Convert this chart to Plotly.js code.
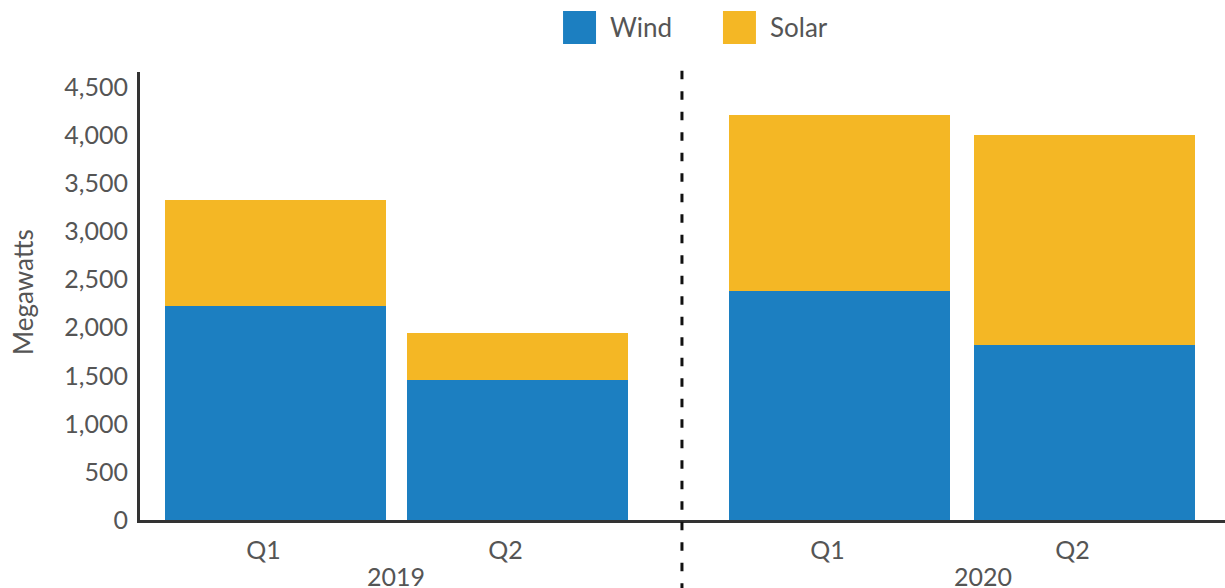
<!DOCTYPE html>
<html>
<head>
<meta charset="utf-8">
<script src="https://cdn.plot.ly/plotly-3.0.1.min.js"></script>
<style>html,body{margin:0;padding:0;background:#fff;}#chart{width:1225px;height:588px;}</style>
</head>
<body>
<div id="chart"></div>
<script>
// ---- data ----
const quarters = ['Q1', 'Q2'];
const years = ['2019', '2020'];
const wind2019 = [2230, 1460];
const solar2019 = [1100, 480];
const wind2020 = [2380, 1820];
const solar2020 = [1830, 2180];
const seriesNames = ['Wind', 'Solar'];
const yTicks = [0, 500, 1000, 1500, 2000, 2500, 3000, 3500, 4000, 4500];

// ---- style ----
const WIND = '#1c7fc1';
const SOLAR = '#f4b725';
const TXT = '#555555';
const FONT = 'Lato, "Open Sans", sans-serif';

function bar(x, y, name, color, xa, w) {
  return {type: 'bar', x: x, y: y, name: name, xaxis: xa, yaxis: 'y',
    marker: {color: color, line: {width: 0}}, width: w, showlegend: false, hoverinfo: 'skip'};
}

const traces = [
  bar(quarters, wind2019, seriesNames[0], WIND, 'x', 0.913),
  bar(quarters, solar2019, seriesNames[1], SOLAR, 'x', 0.913),
  bar(quarters, wind2020, seriesNames[0], WIND, 'x2', 0.902),
  bar(quarters, solar2020, seriesNames[1], SOLAR, 'x2', 0.902)
];

const xCommon = {
  type: 'category', categoryorder: 'array', categoryarray: quarters,
  showline: true, linecolor: '#333333', linewidth: 3, ticks: '',
  showgrid: false, zeroline: false, fixedrange: true,
  tickfont: {family: FONT, size: 25, color: TXT}, ticklabelshift: -12, ticklabelstandoff: 6
};

const layout = {
  width: 1225, height: 588,
  margin: {l: 140, r: 0, t: 72, b: 68, pad: 0},
  paper_bgcolor: '#ffffff', plot_bgcolor: '#ffffff',
  barmode: 'stack',
  showlegend: false,
  font: {family: FONT, color: TXT},
  xaxis: Object.assign({}, xCommon, {domain: [0, 0.4995], range: [-0.56, 1.68], anchor: 'y'}),
  xaxis2: Object.assign({}, xCommon, {domain: [0.4995, 1], range: [-0.643, 1.573], anchor: 'y'}),
  yaxis: {
    range: [0, 4660], tickvals: yTicks, tickformat: ',', ticks: '',
    showline: true, linecolor: '#333333', linewidth: 3,
    showgrid: false, zeroline: false, fixedrange: true,
    tickfont: {family: FONT, size: 25, color: TXT}, ticklabelstandoff: 4
  },
  shapes: [
    {type: 'line', xref: 'paper', yref: 'paper', x0: 0.4995, x1: 0.4995, y0: -0.16, y1: 1.018,
     line: {color: '#111111', width: 3, dash: '8.5px,12px'}},
    {type: 'rect', xref: 'paper', yref: 'paper', x0: 0.3899, x1: 0.4203, y0: 1.0625, y1: 1.1362,
     fillcolor: WIND, line: {width: 0}},
    {type: 'rect', xref: 'paper', yref: 'paper', x0: 0.5373, x1: 0.5677, y0: 1.0625, y1: 1.1362,
     fillcolor: SOLAR, line: {width: 0}}
  ],
  annotations: [
    {xref: 'paper', yref: 'paper', x: 0.4313, y: 1.1004, xanchor: 'left', yanchor: 'middle',
     text: seriesNames[0], showarrow: false, font: {family: FONT, size: 26, color: TXT}},
    {xref: 'paper', yref: 'paper', x: 0.5788, y: 1.1004, xanchor: 'left', yanchor: 'middle',
     text: seriesNames[1], showarrow: false, font: {family: FONT, size: 26, color: TXT}},
    {xref: 'paper', yref: 'paper', x: 0.236, y: -0.124, xanchor: 'center', yanchor: 'middle',
     text: years[0], showarrow: false, font: {family: FONT, size: 25, color: TXT}},
    {xref: 'paper', yref: 'paper', x: 0.7765, y: -0.124, xanchor: 'center', yanchor: 'middle',
     text: years[1], showarrow: false, font: {family: FONT, size: 25, color: TXT}},
    {xref: 'paper', yref: 'paper', x: (23 - 140) / 1085, y: (520 - 292) / 448, xanchor: 'center', yanchor: 'middle',
     textangle: -90, text: 'Megawatts', showarrow: false, font: {family: FONT, size: 26, color: TXT}}
  ]
};

Plotly.newPlot('chart', traces, layout, {staticPlot: true, displayModeBar: false});
</script>
</body>
</html>
